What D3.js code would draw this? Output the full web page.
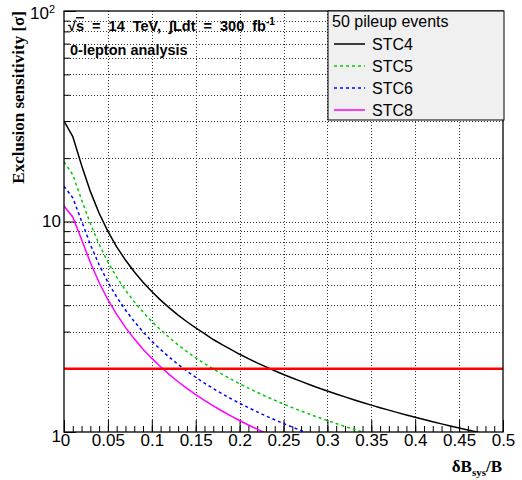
<!DOCTYPE html>
<html>
<head>
<meta charset="utf-8">
<script src="https://cdn.jsdelivr.net/npm/d3@7"></script>
<style>
  body { margin: 0; background: #fff; }
  svg { display: block; }
</style>
</head>
<body>
<svg id="chart" width="522" height="480"></svg>
<script>
// Relative systematic uncertainty on the background, dB_sys/B
const deltaB = [0, 0.01, 0.02, 0.03, 0.04, 0.05, 0.06, 0.07, 0.08, 0.09,
  0.10, 0.11, 0.12, 0.13, 0.14, 0.15, 0.16, 0.17, 0.18, 0.19,
  0.20, 0.21, 0.22, 0.23, 0.24, 0.25, 0.26, 0.27, 0.28, 0.29,
  0.30, 0.31, 0.32, 0.33, 0.34, 0.35, 0.36, 0.37, 0.38, 0.39,
  0.40, 0.41, 0.42, 0.43, 0.44, 0.45, 0.46, 0.47, 0.48];

// Exclusion sensitivity [sigma] per tower-cluster configuration
const stc4 = [30, 25.3, 18.5, 13.9, 10.95, 8.97, 7.58, 6.56, 5.77, 5.15,
  4.65, 4.23, 3.89, 3.59, 3.34, 3.12, 2.93, 2.75, 2.60, 2.47,
  2.34, 2.23, 2.13, 2.04, 1.955, 1.877, 1.805, 1.739, 1.677, 1.619,
  1.565, 1.515, 1.468, 1.423, 1.382, 1.342, 1.305, 1.270, 1.236, 1.205,
  1.175, 1.146, 1.119, 1.093, 1.068, 1.044, 1.022, 1.000, 0.979];
const stc5 = [19.2, 16.7, 12.7, 9.77, 7.78, 6.42, 5.44, 4.72, 4.16, 3.71,
  3.35, 3.06, 2.81, 2.59, 2.41, 2.25, 2.115, 1.992, 1.882, 1.784,
  1.696, 1.616, 1.543, 1.476, 1.415, 1.359, 1.306, 1.258, 1.214, 1.172,
  1.133, 1.097, 1.062, 1.030, 1.000, 0.972];
const stc6 = [14.7, 12.96, 10.04, 7.78, 6.23, 5.15, 4.38, 3.80, 3.35, 2.99,
  2.70, 2.465, 2.265, 2.094, 1.947, 1.820, 1.708, 1.608, 1.520, 1.441,
  1.369, 1.305, 1.246, 1.192, 1.143, 1.097, 1.055, 1.016, 0.980];
const stc8 = [11.85, 10.51, 8.21, 6.39, 5.13, 4.25, 3.62, 3.14, 2.77, 2.475,
  2.237, 2.040, 1.874, 1.733, 1.612, 1.506, 1.414, 1.332, 1.258, 1.193,
  1.134, 1.080, 1.032, 0.987];

const seriesNames = ["STC4", "STC5", "STC6", "STC8"];
const seriesValues = [stc4, stc5, stc6, stc8];
const seriesColors = ["#000000", "#00cc00", "#0000ff", "#ff00ff"];
const seriesDash = [null, "3,3", "3,3", null];

// 95% CL exclusion threshold
const exclusionLevel = 2;

// Axis ticks
const xTicks = [0, 0.05, 0.1, 0.15, 0.2, 0.25, 0.3, 0.35, 0.4, 0.45, 0.5];
const xTickLabels = ["0", "0.05", "0.1", "0.15", "0.2", "0.25", "0.3", "0.35", "0.4", "0.45", "0.5"];
const xMinorTicks = d3.range(0, 51).map(i => i / 100);
const yTicks = [1, 10, 100];
const yMinorTicks = [2, 3, 4, 5, 6, 7, 8, 9, 20, 30, 40, 50, 60, 70, 80, 90];

const legendTitle = "50 pileup events";

const svg = d3.select("#chart");
const L = 64, R = 503, T = 11, B = 432;

const x = d3.scaleLinear().domain([0, 0.5]).range([L, R]);
const y = d3.scaleLog().domain([1, 100]).range([B, T]);

svg.append("defs").append("clipPath").attr("id", "plotClip")
  .append("rect").attr("x", L).attr("y", T).attr("width", R - L).attr("height", B - T);

// Dotted grid
const grid = svg.append("g").attr("stroke", "#333").attr("stroke-width", 1)
  .attr("stroke-dasharray", "1,2").attr("shape-rendering", "crispEdges");
grid.selectAll("line.v").data(xTicks.slice(1, -1)).join("line")
  .attr("x1", d => Math.round(x(d)) + 0.5).attr("x2", d => Math.round(x(d)) + 0.5)
  .attr("y1", T).attr("y2", B);
grid.selectAll("line.h").data(yMinorTicks.concat([10])).join("line")
  .attr("y1", d => Math.round(y(d)) + 0.5).attr("y2", d => Math.round(y(d)) + 0.5)
  .attr("x1", L).attr("x2", R);

// Axes with inward ticks
const xMinorAxis = d3.axisBottom(x).tickValues(xMinorTicks).tickSize(-6).tickFormat("");
const xAxis = d3.axisBottom(x).tickValues(xTicks).tickSize(-12).tickPadding(2)
  .tickFormat((d, i) => xTickLabels[i]);
const yMinorAxis = d3.axisLeft(y).tickValues(yMinorTicks).tickSize(-6).tickFormat("");
const yAxis = d3.axisLeft(y).tickValues(yTicks).tickSize(-12).tickPadding(3)
  .tickFormat(d => d === 100 ? "10" : String(d));

function styleAxis(g) {
  g.select(".domain").remove();
  g.selectAll(".tick line").attr("stroke", "#000").attr("stroke-width", 1);
  g.selectAll("text").attr("font-family", "'Liberation Sans', Arial, sans-serif")
    .attr("font-size", 17).attr("fill", "#000");
}

svg.append("g").attr("transform", `translate(0,${B})`).call(xMinorAxis).call(styleAxis);
const gx = svg.append("g").attr("transform", `translate(0,${B})`).call(xAxis).call(styleAxis);
svg.append("g").attr("transform", `translate(${L},0)`).call(yMinorAxis).call(styleAxis);
const gy = svg.append("g").attr("transform", `translate(${L},0)`).call(yAxis).call(styleAxis);

// "1" sits just under the axis corner, "10^2" carries a superscript
gy.selectAll(".tick").filter(d => d === 1).select("text").attr("dy", "0.55em");
gy.selectAll(".tick").filter(d => d === 100).select("text")
  .attr("dy", "0.45em").attr("x", -9)
  .append("tspan").attr("dy", "-0.55em").attr("font-size", 11).text("2");
gx.selectAll(".tick").filter(d => d === 0).select("text").attr("dx", 1);

// Curves
const line = d3.line().x(d => x(d[0])).y(d => y(d[1]));
const curves = svg.append("g").attr("clip-path", "url(#plotClip)").attr("fill", "none");
seriesValues.forEach((vals, i) => {
  curves.append("path")
    .datum(vals.map((v, j) => [deltaB[j], v]))
    .attr("d", line)
    .attr("stroke", seriesColors[i])
    .attr("stroke-width", 1.5)
    .attr("stroke-dasharray", seriesDash[i]);
});

// Exclusion threshold line
svg.append("line")
  .attr("x1", x(0)).attr("x2", x(0.5))
  .attr("y1", y(exclusionLevel)).attr("y2", y(exclusionLevel))
  .attr("stroke", "#ff0000").attr("stroke-width", 2.5);

// Frame
svg.append("rect").attr("x", L).attr("y", T).attr("width", R - L).attr("height", B - T)
  .attr("fill", "none").attr("stroke", "#000").attr("stroke-width", 1.3);

// Annotations
const ann = svg.append("g").attr("font-family", "'Liberation Sans', Arial, sans-serif")
  .attr("font-weight", "bold").attr("font-size", 14.5).attr("fill", "#000");
const t1 = ann.append("text").attr("x", 68).attr("y", 31).attr("word-spacing", 4);
t1.append("tspan").text("√");
t1.append("tspan").attr("text-decoration", "overline").text("s");
t1.append("tspan").text(" = 14 TeV,  ∫Ldt = 300 fb");
t1.append("tspan").attr("dy", -6).attr("font-size", 10).text("-1");
ann.append("text").attr("x", 70).attr("y", 55).text("0-lepton analysis");

// Axis titles
svg.append("text")
  .attr("transform", `translate(24,${T}) rotate(-90)`)
  .attr("text-anchor", "end")
  .attr("font-family", "'Liberation Serif', 'Times New Roman', serif")
  .attr("font-weight", "bold").attr("font-size", 17)
  .text("Exclusion sensitivity [σ]");

const xt = svg.append("text")
  .attr("x", 502).attr("y", 472).attr("text-anchor", "end")
  .attr("font-family", "'Liberation Serif', 'Times New Roman', serif")
  .attr("font-weight", "bold").attr("font-size", 17);
xt.append("tspan").text("δB");
xt.append("tspan").attr("dy", 4).attr("font-size", 11).text("sys");
xt.append("tspan").attr("dy", -4).text("/B");

// Legend
const lg = svg.append("g");
lg.append("rect").attr("x", 328).attr("y", 11).attr("width", 176).attr("height", 109)
  .attr("fill", "#f0f0f0").attr("stroke", "#000").attr("stroke-width", 1);
lg.append("text").attr("x", 332).attr("y", 27)
  .attr("font-family", "'Liberation Sans', Arial, sans-serif").attr("font-size", 16)
  .text(legendTitle);
seriesNames.forEach((name, i) => {
  const cy = 44 + i * 22;
  lg.append("line").attr("x1", 334).attr("x2", 365).attr("y1", cy).attr("y2", cy)
    .attr("stroke", seriesColors[i]).attr("stroke-width", 1.5)
    .attr("stroke-dasharray", seriesDash[i]);
  lg.append("text").attr("x", 372).attr("y", cy + 6)
    .attr("font-family", "'Liberation Sans', Arial, sans-serif").attr("font-size", 16)
    .text(name);
});
</script>
</body>
</html>
